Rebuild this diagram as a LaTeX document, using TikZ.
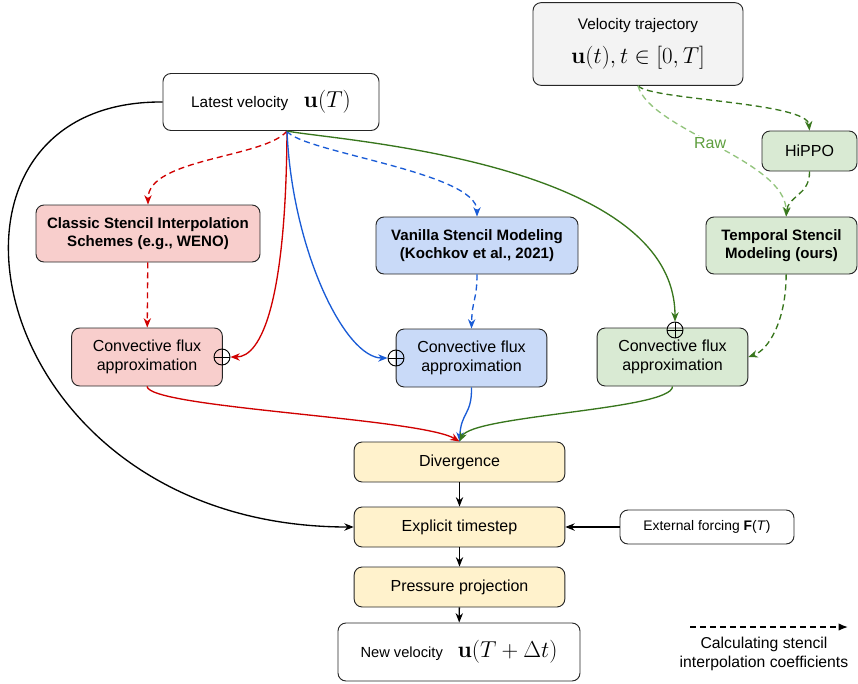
\documentclass[tikz,border=0pt]{standalone}
\usepackage[no-math]{fontspec}
\setmainfont{Liberation Sans}
\usetikzlibrary{arrows.meta, calc}

\definecolor{redfill}{HTML}{F8CECC}
\definecolor{bluefill}{HTML}{C9DAF8}
\definecolor{greenfill}{HTML}{D9EAD3}
\definecolor{yellowfill}{HTML}{FFF2CC}
\definecolor{greyfill}{HTML}{F3F3F3}
\definecolor{redline}{HTML}{D00000}
\definecolor{blueline}{HTML}{1A5CD6}
\definecolor{greenline}{HTML}{38761D}
\definecolor{rawline}{HTML}{93C47D}
\definecolor{rawtext}{HTML}{5E9E3E}

% larger math inside the boxes
\newcommand{\vmath}[1]{{\fontsize{18.5}{20}\selectfont$#1$}}

\begin{document}
\begin{tikzpicture}[
    x=0.75pt, y=-0.75pt,
    >={Stealth[length=7pt,width=5.5pt,inset=2.2pt]},
    font=\fontsize{12}{14}\selectfont,
    % Styles
    box/.style={ % rounded block
        rectangle,
        rounded corners=6pt,
        draw=black!85,
        line width=0.7pt,
        align=center,
        inner sep=2pt
    },
    model/.style={box, font=\fontsize{11.3}{13.5}\selectfont\bfseries, minimum height=42.75pt},
    stage/.style={box, fill=yellowfill, minimum width=158pt, minimum height=30pt},
    conv/.style={box, minimum width=113pt, minimum height=43.5pt},
    oplus/.style={ % summation marker
        circle,
        draw=black,
        line width=0.7pt,
        minimum size=12pt,
        inner sep=0pt,
        path picture={
            \draw[line width=0.7pt] (path picture bounding box.north) -- (path picture bounding box.south)
                (path picture bounding box.west) -- (path picture bounding box.east);
        }
    },
    arrow/.style={->, line width=1pt},
    dashline/.style={arrow, dash pattern=on 4.5pt off 3pt}
]
    \useasboundingbox (0,0) rectangle (858,683);

    % Inputs
    \node[box, fill=greyfill, minimum width=157.5pt, minimum height=62pt, font=\fontsize{11.5}{14}\selectfont] (traj) at (638,44)
        {Velocity trajectory\\[9pt]\vmath{\mathbf{u}(t), t\in[0,T]}};
    \node[box, fill=white, minimum width=162pt, minimum height=42.75pt, font=\fontsize{11.5}{14}\selectfont] (latest) at (271,102)
        {Latest velocity\quad\vmath{\mathbf{u}(T)}};
    \coordinate (fan) at (287,131);

    % Stencil models
    \node[model, fill=redfill, minimum width=168pt] (classic) at (148,233.5)
        {Classic Stencil Interpolation\\Schemes (e.g., WENO)};
    \node[model, fill=bluefill, minimum width=151.5pt] (vanilla) at (477,245.5)
        {Vanilla Stencil Modeling\\(Kochkov et al., 2021)};
    \node[model, fill=greenfill, minimum width=113.25pt] (temporal) at (781.5,245.5)
        {Temporal Stencil\\Modeling (ours)};
    \node[box, fill=greenfill, minimum width=71.25pt, minimum height=30pt] (hippo) at (809.5,151) {HiPPO};

    % Flux approximations
    \node[conv, fill=redfill] (redconv) at (147,357) {Convective flux\\approximation};
    \node[conv, fill=bluefill] (blueconv) at (471.5,358) {Convective flux\\approximation};
    \node[conv, fill=greenfill] (greenconv) at (672.5,357) {Convective flux\\approximation};
    \node[oplus] (rplus) at (222,357) {};
    \node[oplus] (bplus) at (396,358) {};
    \node[oplus] (gplus) at (675,330) {};

    % Solver stages
    \node[stage] (div) at (459.5,462) {Divergence};
    \node[stage] (expl) at (459.5,527) {Explicit timestep};
    \node[stage] (press) at (459.5,587) {Pressure projection};
    \node[box, fill=white, minimum width=181.5pt, minimum height=43.5pt, font=\fontsize{11}{14}\selectfont] (newvel) at (459,652)
        {New velocity\quad\vmath{\mathbf{u}(T+\Delta t)}};
    \node[box, fill=white, minimum width=130.5pt, minimum height=25.5pt, font=\fontsize{10.4}{12}\selectfont] (ext) at (707,527)
        {External forcing \textbf{F}(\textit{T})};

    % Fan out of the latest velocity
    \draw[dashline, redline] (fan) .. controls (265,158) and (148,158) .. (classic.north);
    \draw[arrow, redline] (fan) .. controls (286,300) and (262,357) .. (rplus.east);
    \draw[arrow, blueline] (fan) .. controls (292,250) and (345,358) .. (bplus.west);
    \draw[dashline, blueline] (fan) .. controls (300,152) and (477,172) .. (vanilla.north);
    \draw[arrow, greenline] (fan) .. controls (330,140) and (675,160) .. (gplus.north);

    % Stencil coefficients into the fluxes
    \draw[dashline, redline] (classic) -- (redconv);
    \draw[dashline, blueline] (vanilla.south) .. controls (477,300) and (472,300) .. (blueconv.north);
    \draw[dashline, greenline] ([xshift=3.5pt]temporal.south) .. controls (786,322) and (768,350) .. (greenconv.east);

    % Temporal branch
    \draw[dashline, greenline] (traj.south) .. controls (650,100) and (807,102) .. (hippo.north);
    \draw[dashline, rawline] (traj.south) .. controls (650,130) and (786,160) .. ([xshift=3.5pt]temporal.north)
        node[pos=0.47, text=rawtext, fill=white, inner sep=1pt] (raw) {Raw};
    \draw[dashline, greenline] (hippo.south) .. controls (810,195) and (788,196) .. ([xshift=3.5pt]temporal.north);

    % Fluxes into the divergence
    \draw[arrow, redline] (redconv.south) .. controls (150,408) and (420,418) .. (div.north);
    \draw[arrow, blueline] (blueconv.south) .. controls (472,415) and (461,412) .. (div.north);
    \draw[arrow, greenline] (greenconv.south) .. controls (672,410) and (472,415) .. (div.north);

    % Solver chain
    \draw[arrow] (latest.west) .. controls (-100,100) and (-20,527) .. (expl.west);
    \draw[arrow] (div) -- (expl);
    \draw[arrow] (expl) -- (press);
    \draw[arrow] (press) -- (newvel);
    \draw[arrow] (ext) -- (expl);

    % Legend
    \coordinate (legA) at (690,627);
    \coordinate (legB) at (848,627);
    \draw[arrow, dash pattern=on 4.5pt off 3pt, -{Latex[length=7pt,width=5.5pt]}] (legA) -- (legB);
    \node[align=center, font=\fontsize{11.8}{14}\selectfont] (legtxt) at (764,654) {Calculating stencil\\interpolation coefficients};
\end{tikzpicture}
\end{document}
